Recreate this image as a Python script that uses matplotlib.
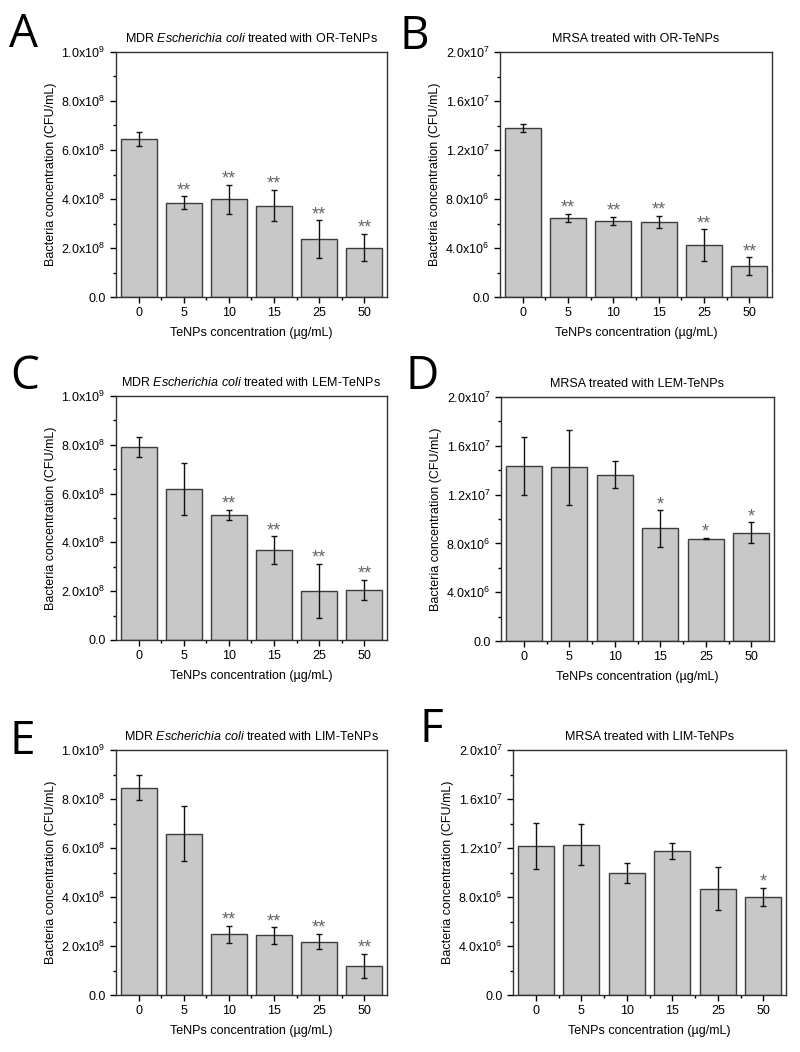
import matplotlib
matplotlib.use("Agg")
import matplotlib.pyplot as plt
import numpy as np
from matplotlib.ticker import MultipleLocator, FixedLocator

plt.rcParams['font.family'] = ['Liberation Sans', 'DejaVu Sans']
plt.rcParams['mathtext.fontset'] = 'custom'
plt.rcParams['mathtext.rm'] = 'Liberation Sans'
plt.rcParams['mathtext.it'] = 'Liberation Sans:italic'

conc = ['0', '5', '10', '15', '25', '50']

# E. coli panels (CFU/mL)
ecoli_or = [6.45e8, 3.85e8, 3.98e8, 3.73e8, 2.36e8, 2.02e8]
ecoli_or_err = [0.28e8, 0.26e8, 0.61e8, 0.64e8, 0.77e8, 0.56e8]
ecoli_or_sig = ['', '**', '**', '**', '**', '**']

ecoli_lem = [7.91e8, 6.19e8, 5.12e8, 3.69e8, 2.02e8, 2.05e8]
ecoli_lem_err = [0.40e8, 1.08e8, 0.21e8, 0.56e8, 1.10e8, 0.41e8]
ecoli_lem_sig = ['', '', '**', '**', '**', '**']

ecoli_lim = [8.46e8, 6.58e8, 2.48e8, 2.43e8, 2.18e8, 1.19e8]
ecoli_lim_err = [0.52e8, 1.12e8, 0.34e8, 0.33e8, 0.31e8, 0.49e8]
ecoli_lim_sig = ['', '', '**', '**', '**', '**']

# MRSA panels (CFU/mL)
mrsa_or = [1.38e7, 6.46e6, 6.21e6, 6.16e6, 4.25e6, 2.53e6]
mrsa_or_err = [0.03e7, 0.33e6, 0.34e6, 0.49e6, 1.28e6, 0.73e6]
mrsa_or_sig = ['', '**', '**', '**', '**', '**']

mrsa_lem = [1.434e7, 1.423e7, 1.363e7, 9.23e6, 8.39e6, 8.88e6]
mrsa_lem_err = [0.235e7, 0.307e7, 0.11e7, 1.49e6, 0.05e6, 0.85e6]
mrsa_lem_sig = ['', '', '', '*', '*', '*']

mrsa_lim = [1.217e7, 1.228e7, 9.96e6, 1.176e7, 8.68e6, 7.99e6]
mrsa_lim_err = [0.188e7, 0.164e7, 0.8e6, 0.65e6, 1.73e6, 0.75e6]
mrsa_lim_sig = ['', '', '', '', '', '*']

ecoli_ticks = [0, 2e8, 4e8, 6e8, 8e8, 1e9]
ecoli_ticklabels = ['0.0', r'2.0x10$^8$', r'4.0x10$^8$', r'6.0x10$^8$', r'8.0x10$^8$', r'1.0x10$^9$']
mrsa_ticks = [0, 4e6, 8e6, 1.2e7, 1.6e7, 2e7]
mrsa_ticklabels = ['0.0', r'4.0x10$^6$', r'8.0x10$^6$', r'1.2x10$^7$', r'1.6x10$^7$', r'2.0x10$^7$']

fig = plt.figure(figsize=(8, 10.52), dpi=100)
W, H = 800, 1052


def add_axes(x0, x1, y0, y1):
    return fig.add_axes([x0 / W, 1 - y1 / H, (x1 - x0) / W, (y1 - y0) / H])


def panel(ax, vals, errs, sig, ticks, ticklabels, title, letter, lx, ly):
    x = np.arange(len(conc))
    ax.bar(x, vals, width=0.8, color='#c8c8c8', edgecolor='#3c3c3c', linewidth=1.0, zorder=2)
    ax.errorbar(x, vals, yerr=errs, fmt='none', ecolor='#111111', elinewidth=1.0,
                capsize=2.5, capthick=1.0, zorder=3)
    ymax = ticks[-1]
    for xi, v, e, s in zip(x, vals, errs, sig):
        if s:
            ax.text(xi, v + e - ymax * 0.012, s, ha='center', va='bottom',
                    fontsize=13, color='#666666')
    ax.set_xlim(-0.5, 5.5)
    ax.set_ylim(0, ymax)
    ax.set_xticks(x)
    ax.set_xticklabels(conc)
    ax.xaxis.set_minor_locator(FixedLocator(x[:-1] + 0.5))
    ax.set_yticks(ticks)
    ax.set_yticklabels(ticklabels)
    ax.yaxis.set_minor_locator(MultipleLocator(ticks[1] / 2))
    ax.tick_params(which='both', direction='out', top=False, right=False, labelsize=9)
    ax.tick_params(which='major', length=4, width=1.0)
    ax.tick_params(which='minor', length=2.5, width=1.0)
    ax.tick_params(axis='x', pad=3)
    for sp in ax.spines.values():
        sp.set_linewidth(1.0)
        sp.set_color('#333333')
    ax.set_xlabel('TeNPs concentration (µg/mL)', fontsize=9, labelpad=6)
    ax.set_ylabel('Bacteria concentration (CFU/mL)', fontsize=9, labelpad=3)
    ax.set_title(title, fontsize=9, pad=7)
    fig.text(lx / W, 1 - ly / H, letter, fontsize=33, family=['Open Sans', 'DejaVu Sans'],
             ha='left', va='top')


axA = add_axes(116, 387, 52, 297)
panel(axA, ecoli_or, ecoli_or_err, ecoli_or_sig, ecoli_ticks, ecoli_ticklabels,
      r'MDR $\mathit{Escherichia\ coli}$ treated with OR-TeNPs', 'A', 9, 12)
axB = add_axes(500, 772, 52, 297)
panel(axB, mrsa_or, mrsa_or_err, mrsa_or_sig, mrsa_ticks, mrsa_ticklabels,
      'MRSA treated with OR-TeNPs', 'B', 400, 14)
axC = add_axes(116, 387, 396, 640)
panel(axC, ecoli_lem, ecoli_lem_err, ecoli_lem_sig, ecoli_ticks, ecoli_ticklabels,
      r'MDR $\mathit{Escherichia\ coli}$ treated with LEM-TeNPs', 'C', 10, 354)
axD = add_axes(501, 774, 397, 641)
panel(axD, mrsa_lem, mrsa_lem_err, mrsa_lem_sig, mrsa_ticks, mrsa_ticklabels,
      'MRSA treated with LEM-TeNPs', 'D', 406, 354)
axE = add_axes(116, 387, 750, 995)
panel(axE, ecoli_lim, ecoli_lim_err, ecoli_lim_sig, ecoli_ticks, ecoli_ticklabels,
      r'MDR $\mathit{Escherichia\ coli}$ treated with LIM-TeNPs', 'E', 10, 719)
axF = add_axes(513, 786, 750, 995)
panel(axF, mrsa_lim, mrsa_lim_err, mrsa_lim_sig, mrsa_ticks, mrsa_ticklabels,
      'MRSA treated with LIM-TeNPs', 'F', 419, 707)

fig.savefig('out.png', dpi=100)
